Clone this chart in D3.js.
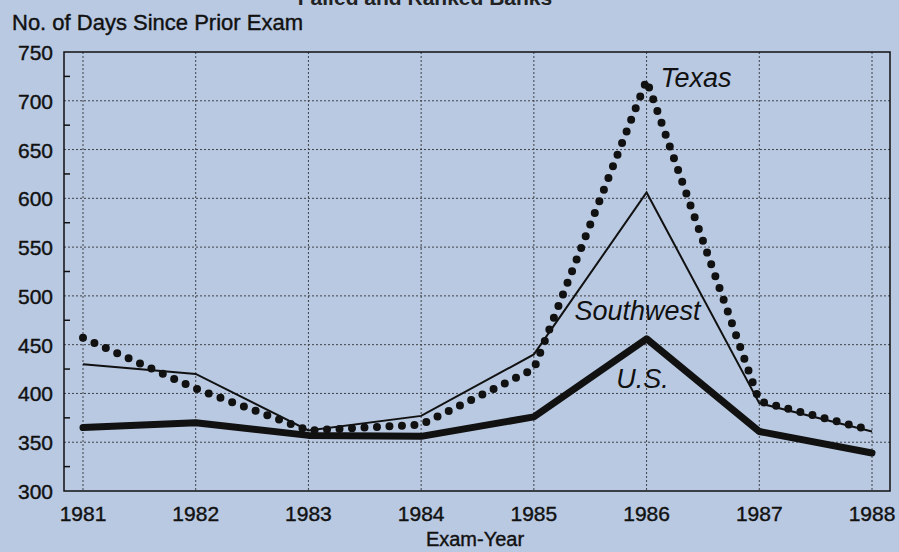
<!DOCTYPE html>
<html>
<head>
<meta charset="utf-8">
<script src="https://cdn.jsdelivr.net/npm/d3@7"></script>
<style>
  body { margin: 0; background: #b9c9e2; }
  svg { display: block; font-family: "Liberation Sans", Arial, sans-serif; }
  .lbl { stroke: #111; stroke-width: 0.4; }
</style>
</head>
<body>
<svg id="chart" width="899" height="552"></svg>
<script>
// Data
const years = [1981, 1982, 1983, 1984, 1985, 1986, 1987, 1988];
const usDays = [365, 370, 357, 356, 376, 456, 361, 339];
const southwestDays = [430, 420, 362, 377, 440, 606, 390, 361];
const texasDays = [457, 405, 362, 368, 425, 721, 392, 362];
const yTicks = [300, 350, 400, 450, 500, 550, 600, 650, 700, 750];

const svg = d3.select("#chart");

const frame = { left: 64, right: 890, top: 52, bottom: 491 };

const x = d3.scalePoint()
    .domain(years)
    .range([83, 872]);

const y = d3.scaleLinear()
    .domain([300, 750])
    .range([frame.bottom, frame.top]);

// title, cut off at the very top as in the scan
svg.append("text")
    .attr("x", 425)
    .attr("y", 5)
    .attr("text-anchor", "middle")
    .attr("font-weight", "bold")
    .attr("font-size", 21)
    .attr("fill", "#222")
    .text("Failed and Ranked Banks");

// gridlines
const grid = svg.append("g")
    .attr("stroke", "#222")
    .attr("stroke-width", 1)
    .attr("stroke-dasharray", "2 2")
    .attr("opacity", 0.8);

grid.selectAll(".hgrid")
    .data(yTicks.filter((d) => d > 300 && d < 750))
    .enter()
    .append("line")
    .attr("x1", frame.left)
    .attr("x2", frame.right)
    .attr("y1", (d) => y(d))
    .attr("y2", (d) => y(d));

grid.selectAll(".vgrid")
    .data(years)
    .enter()
    .append("line")
    .attr("x1", (d) => x(d))
    .attr("x2", (d) => x(d))
    .attr("y1", frame.top)
    .attr("y2", frame.bottom);

// frame
svg.append("rect")
    .attr("x", frame.left)
    .attr("y", frame.top)
    .attr("width", frame.right - frame.left)
    .attr("height", frame.bottom - frame.top)
    .attr("fill", "none")
    .attr("stroke", "#111")
    .attr("stroke-width", 1.5);

// minor ticks on the y axis, every 25
svg.append("g")
    .selectAll("line")
    .data(d3.range(325, 750, 50))
    .enter()
    .append("line")
    .attr("x1", frame.left)
    .attr("x2", frame.left + 6)
    .attr("y1", (d) => y(d))
    .attr("y2", (d) => y(d))
    .attr("stroke", "#111")
    .attr("stroke-width", 1.5);

// y tick labels
svg.append("g")
    .selectAll("text")
    .data(yTicks)
    .enter()
    .append("text")
    .attr("class", "lbl")
    .attr("x", 53)
    .attr("y", (d) => y(d) + 8)
    .attr("text-anchor", "end")
    .attr("font-size", 21)
    .attr("fill", "#111")
    .text((d) => d);

// x tick labels
svg.append("g")
    .selectAll("text")
    .data(years)
    .enter()
    .append("text")
    .attr("class", "lbl")
    .attr("x", (d) => x(d))
    .attr("y", 521)
    .attr("text-anchor", "middle")
    .attr("font-size", 21)
    .attr("fill", "#111")
    .text((d) => d);

// axis titles
svg.append("text")
    .attr("class", "lbl")
    .attr("x", 12)
    .attr("y", 30)
    .attr("font-size", 22)
    .attr("fill", "#111")
    .text("No. of Days Since Prior Exam");

svg.append("text")
    .attr("class", "lbl")
    .attr("x", 475)
    .attr("y", 546)
    .attr("text-anchor", "middle")
    .attr("font-size", 20)
    .attr("fill", "#111")
    .text("Exam-Year");

const line = d3.line()
    .x((d, i) => x(years[i]))
    .y((d) => y(d));

// Southwest - thin line
svg.append("path")
    .datum(southwestDays)
    .attr("d", line)
    .attr("fill", "none")
    .attr("stroke", "#111")
    .attr("stroke-width", 2);

// U.S. - heavy line
svg.append("path")
    .datum(usDays)
    .attr("d", line)
    .attr("fill", "none")
    .attr("stroke", "#111")
    .attr("stroke-width", 7)
    .attr("stroke-linejoin", "round")
    .attr("stroke-linecap", "round");

// Texas - dotted line
svg.append("path")
    .datum(texasDays)
    .attr("d", line)
    .attr("fill", "none")
    .attr("stroke", "#111")
    .attr("stroke-width", 8)
    .attr("stroke-linecap", "round")
    .attr("stroke-dasharray", "0 12.5");

// series labels
const labels = [
    { name: "Texas", year: 1986, value: 721, dx: 14, dy: 7, anchor: "start" },
    { name: "Southwest", year: 1986, value: 475, dx: -9, dy: 0, anchor: "middle" },
    { name: "U.S.", year: 1986, value: 406, dx: -4, dy: 0, anchor: "middle" }
];

svg.append("g")
    .selectAll("text")
    .data(labels)
    .enter()
    .append("text")
    .attr("x", (d) => x(d.year) + d.dx)
    .attr("y", (d) => y(d.value) + d.dy)
    .attr("text-anchor", (d) => d.anchor)
    .attr("font-style", "italic")
    .attr("font-size", 27)
    .attr("fill", "#111")
    .text((d) => d.name);
</script>
</body>
</html>
